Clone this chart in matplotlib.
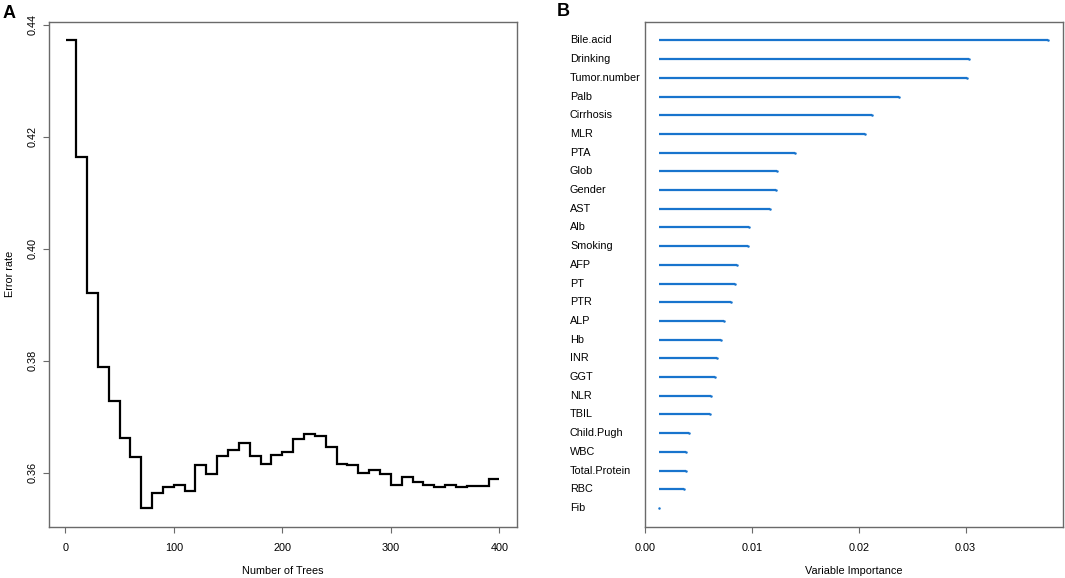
import matplotlib
matplotlib.use("Agg")
import matplotlib.pyplot as plt
import matplotlib.transforms as mtransforms

plt.rcParams["font.family"] = ["Liberation Sans", "DejaVu Sans"]
plt.rcParams["font.size"] = 7.8

# Panel A: OOB error rate, one value per block of trees
tree_edges = [1, 10, 20, 30, 40, 50, 60, 70, 80, 90, 100, 110, 120, 130, 140,
              150, 160, 170, 180, 190, 200, 210, 220, 230, 240, 250, 260, 270,
              280, 290, 300, 310, 320, 330, 340, 350, 360, 370, 380, 390, 400]
error_rate = [0.4372, 0.4163, 0.3921, 0.3789, 0.3729, 0.3662, 0.3628, 0.3537,
              0.3565, 0.3574, 0.3579, 0.3568, 0.3614, 0.3598, 0.3630, 0.3641,
              0.3653, 0.3630, 0.3616, 0.3632, 0.3638, 0.3660, 0.3670, 0.3665,
              0.3647, 0.3616, 0.3614, 0.3599, 0.3605, 0.3598, 0.3579, 0.3592,
              0.3583, 0.3578, 0.3574, 0.3579, 0.3574, 0.3577, 0.3577, 0.3589]

# Panel B: variable importance
variables = ["Bile.acid", "Drinking", "Tumor.number", "Palb", "Cirrhosis", "MLR",
             "PTA", "Glob", "Gender", "AST", "Alb", "Smoking", "AFP", "PT", "PTR",
             "ALP", "Hb", "INR", "GGT", "NLR", "TBIL", "Child.Pugh", "WBC",
             "Total.Protein", "RBC", "Fib"]
importance = [0.03772, 0.03028, 0.03016, 0.02375, 0.02122, 0.02056, 0.01403,
              0.01234, 0.01225, 0.01169, 0.00969, 0.00959, 0.00856, 0.00841,
              0.00800, 0.00738, 0.00706, 0.00675, 0.00653, 0.00612, 0.00607,
              0.00406, 0.00381, 0.00378, 0.00359, 0.00130]

W, H = 1065, 578
BOX = "#6a6a6a"
BLUE = "#1874CD"

fig = plt.figure(figsize=(W / 100, H / 100), dpi=100)
ax_a = fig.add_axes([49 / W, 51.3 / H, 467.7 / W, 505 / H])
ax_b = fig.add_axes([645.3 / W, 51.3 / H, 417.4 / W, 505 / H])

for ax in (ax_a, ax_b):
    for sp in ax.spines.values():
        sp.set_color(BOX)
        sp.set_linewidth(1.0)
    ax.tick_params(direction="out", length=4.5, width=0.8, color=BOX, labelsize=7.8)

# --- A ---
ax_a.stairs(error_rate, tree_edges, baseline=None, color="black", linewidth=1.6)
ax_a.set_xlim(-14.96, 415.96)
ax_a.set_ylim(0.3504, 0.4405)
ax_a.set_xticks([0, 100, 200, 300, 400])
ax_a.set_yticks([0.36, 0.38, 0.40, 0.42, 0.44])
ax_a.set_yticklabels(["0.36", "0.38", "0.40", "0.42", "0.44"], rotation=90, va="center")
ax_a.tick_params(axis="x", pad=7)
ax_a.tick_params(axis="y", pad=4)
ax_a.set_xlabel("Number of Trees")
ax_a.xaxis.set_label_coords(0.5, -(571 - 526.7) / 505)
ax_a.xaxis.label.set_va("center")
ax_a.set_ylabel("Error rate")
ax_a.yaxis.set_label_coords(-(49 - 10) / 467.7, 0.5)
ax_a.yaxis.label.set_va("center")

# --- B ---
rows = list(range(len(variables), 0, -1))
start = min(importance)
ax_b.hlines(rows, start, importance, color=BLUE, linewidth=1.6)
# end caps so the zero-length (Fib) segment still shows as a dot
ax_b.plot(importance, rows, "o", color=BLUE, markersize=1.8, markeredgewidth=0)
ax_b.set_xlim(0, 0.0391)
ax_b.set_ylim(0, len(variables) + 1)
ax_b.set_xticks([0.0, 0.01, 0.02, 0.03])
ax_b.set_xticklabels(["0.00", "0.01", "0.02", "0.03"])
ax_b.set_yticks([])
ax_b.tick_params(axis="x", pad=7)
trans = mtransforms.blended_transform_factory(ax_b.transAxes, ax_b.transData)
for name, r in zip(variables, rows):
    ax_b.text(-(645.3 - 570) / 417.4, r, name, transform=trans,
              ha="left", va="center")
ax_b.set_xlabel("Variable Importance")
ax_b.xaxis.set_label_coords(0.5, -(571 - 526.7) / 505)
ax_b.xaxis.label.set_va("center")

fig.text(3 / W, 1 - 13 / H, "A", fontsize=13, fontweight="bold", ha="left", va="center")
fig.text(557 / W, 1 - 11 / H, "B", fontsize=13, fontweight="bold", ha="left", va="center")

fig.savefig("out.png", dpi=100)
